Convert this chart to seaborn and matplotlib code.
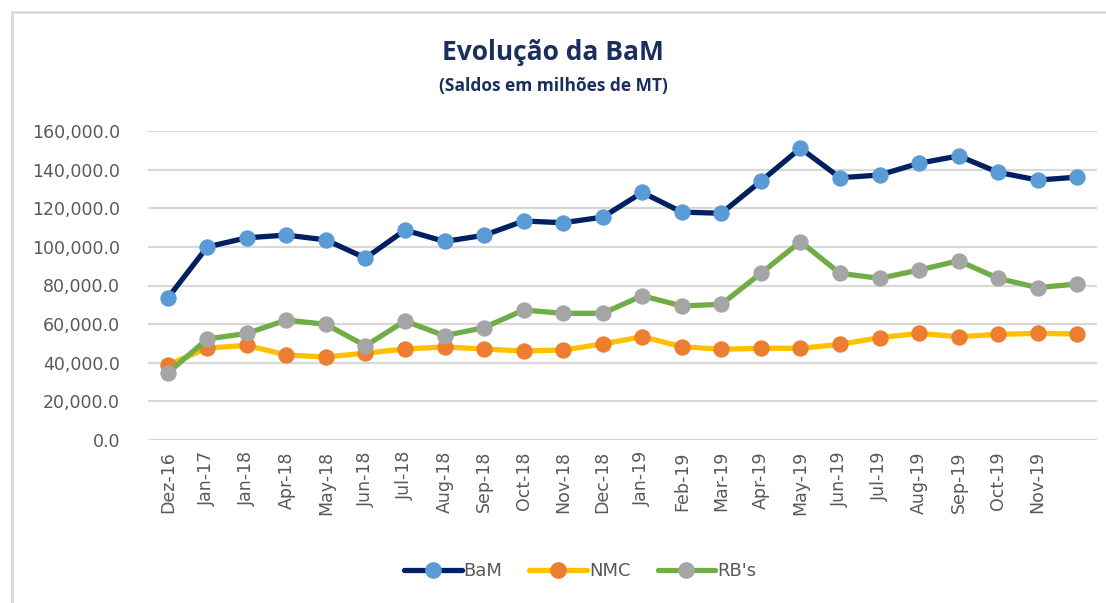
import pandas as pd
import matplotlib.pyplot as plt
import seaborn as sns
from matplotlib.lines import Line2D
from matplotlib.ticker import FuncFormatter

# Data (saldos em milhoes de MT)
months = ["Dez-16", "Jan-17", "Jan-18", "Apr-18", "May-18", "Jun-18", "Jul-18",
          "Aug-18", "Sep-18", "Oct-18", "Nov-18", "Dec-18", "Jan-19", "Feb-19",
          "Mar-19", "Apr-19", "May-19", "Jun-19", "Jul-19", "Aug-19", "Sep-19",
          "Oct-19", "Nov-19", ""]
bam = [73500, 100000, 104700, 106100, 103600, 94200, 108700, 102800, 106000,
       113400, 112500, 115400, 128200, 118000, 117400, 134000, 151100, 135800,
       137200, 143300, 147100, 138600, 134600, 136100]
nmc = [38800, 47600, 49000, 44000, 43000, 45000, 47100, 48200, 47100,
       46100, 46600, 49700, 53500, 48300, 47000, 47500, 47500, 49500,
       53000, 55200, 53500, 54700, 55200, 54900]
rbs = [34700, 52300, 55200, 62100, 59900, 48800, 61600, 54000, 58200,
       67300, 65600, 65600, 74700, 69400, 70300, 86300, 102700, 86300,
       83700, 88000, 92800, 83700, 78900, 80800]

series = {"BaM": bam, "NMC": nmc, "RB's": rbs}
line_colors = {"BaM": "#002060", "NMC": "#FFC000", "RB's": "#70AD47"}
marker_colors = {"BaM": "#5B9BD5", "NMC": "#ED7D31", "RB's": "#A5A5A5"}

sns.set_style("white")
plt.rcParams['font.family'] = ['DejaVu Sans']

fig = plt.figure(figsize=(11.06, 6.03), dpi=100)
ax = fig.add_axes([148 / 1106, 1 - 440 / 603, (1097 - 148) / 1106, 309 / 603])

pos = list(range(len(months)))
for name, vals in series.items():
    sns.lineplot(x=pos, y=vals, ax=ax, color=line_colors[name], linewidth=3.8,
                 marker="o", markersize=11, markerfacecolor=marker_colors[name],
                 markeredgecolor=marker_colors[name], label=name, legend=False)

ax.set_xlim(-0.5, len(months) - 0.5)
ax.set_ylim(0, 160000)
ax.set_yticks(range(0, 160001, 20000))
ax.yaxis.set_major_formatter(FuncFormatter(lambda v, p: f"{v:,.1f}"))
ax.set_xticks(pos)
ax.set_xticklabels(months, rotation=90)
ax.tick_params(axis="both", colors="#595959", labelsize=12.5, length=0)
ax.tick_params(axis="y", pad=20)
ax.tick_params(axis="x", pad=8)
ax.grid(axis="y", color="#D9D9D9", linewidth=1.6)
ax.set_axisbelow(True)
for s in ax.spines.values():
    s.set_visible(False)

fig.text(0.5, 1 - 52 / 603, "Evolução da BaM", ha="center", va="center",
         fontsize=19, fontweight="bold", color="#1A2F5E", family="Open Sans")
fig.text(0.5, 1 - 86 / 603, "(Saldos em milhões de MT)", ha="center", va="center",
         fontsize=12.5, fontweight="bold", color="#1A2F5E", family="Open Sans")

handles = [Line2D([0], [0], color=line_colors[n], linewidth=3.8, marker="o",
                  markersize=11, markerfacecolor=marker_colors[n],
                  markeredgecolor=marker_colors[n]) for n in series]
fig.legend(handles, list(series.keys()), loc="center", ncol=3, frameon=False,
           bbox_to_anchor=(580 / 1106, 1 - 571 / 603), fontsize=13,
           labelcolor="#595959", handlelength=3.2, handletextpad=0.1, columnspacing=1.5)

# chart frame
fig.add_artist(Line2D([11.5 / 1106, 11.5 / 1106], [0, 1 - 12 / 603], color="#D9D9D9", linewidth=2))
fig.add_artist(Line2D([11.5 / 1106, 1], [1 - 12 / 603, 1 - 12 / 603], color="#D9D9D9", linewidth=2))

fig.savefig("out.png", dpi=100, facecolor="white")
